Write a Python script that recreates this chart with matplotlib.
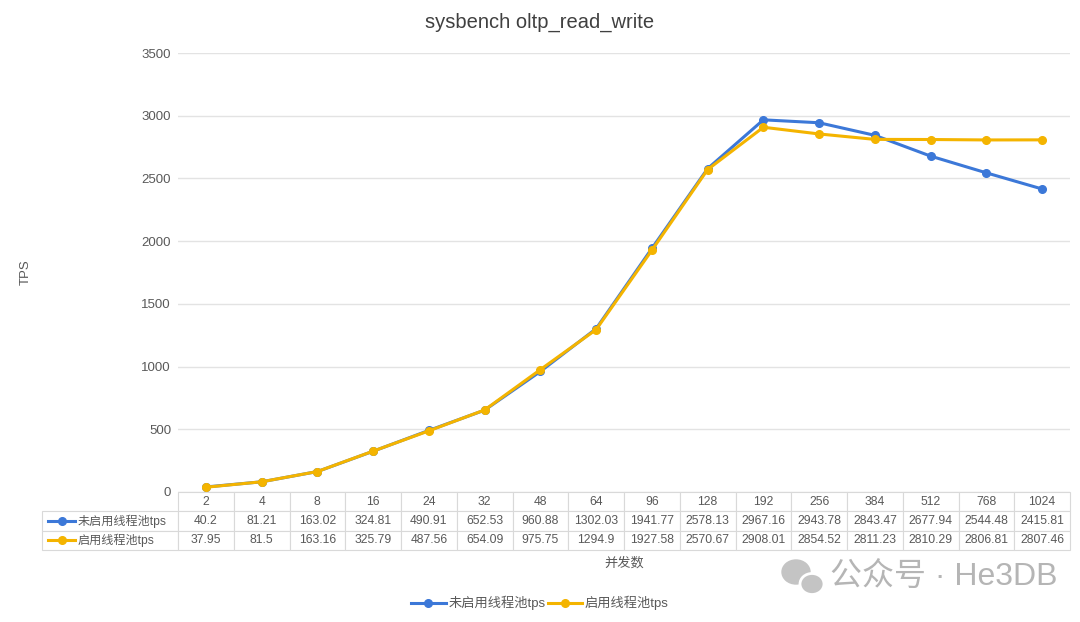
import numpy as np
import matplotlib
matplotlib.use("Agg")
import matplotlib.pyplot as plt
from matplotlib.lines import Line2D
from matplotlib.patches import Ellipse

plt.rcParams['font.family'] = ['Liberation Sans', 'Noto Sans CJK SC', 'DejaVu Sans']

## donnees
concurrency = ['2', '4', '8', '16', '24', '32', '48', '64', '96', '128',
               '192', '256', '384', '512', '768', '1024']
tps_off = [40.2, 81.21, 163.02, 324.81, 490.91, 652.53, 960.88, 1302.03,
           1941.77, 2578.13, 2967.16, 2943.78, 2843.47, 2677.94, 2544.48, 2415.81]
tps_on = [37.95, 81.5, 163.16, 325.79, 487.56, 654.09, 975.75, 1294.9,
          1927.58, 2570.67, 2908.01, 2854.52, 2811.23, 2810.29, 2806.81, 2807.46]
label_off = '未启用线程池tps'
label_on = '启用线程池tps'
yticks = [0, 500, 1000, 1500, 2000, 2500, 3000, 3500]

blue = '#3c78d8'
yellow = '#f4b400'
grey = '#595959'
edge = '#d9d9d9'

W, H = 1080, 622
fig = plt.figure(figsize=(W/100, H/100), dpi=100)
x0, x1, ytop, ybot = 178, 1070, 53, 492
ax = fig.add_axes([x0/W, 1-ybot/H, (x1-x0)/W, (ybot-ytop)/H])

x = np.arange(len(concurrency))
ax.plot(x, tps_off, color=blue, lw=2.2, marker='o', ms=5.5, zorder=3)
ax.plot(x, tps_on, color=yellow, lw=2.2, marker='o', ms=5.5, zorder=4)

ax.set_xlim(-0.5, len(concurrency)-0.5)
ax.set_ylim(0, 3500)
ax.set_yticks(yticks)
ax.set_xticks([])
ax.grid(axis='y', color='#e3e3e3', lw=1)
ax.set_axisbelow(True)
for s in ax.spines.values():
    s.set_visible(False)
ax.tick_params(axis='y', length=0, pad=5, labelsize=9.5, labelcolor=grey)

## tableau
wlab = (x0-42)/(x1-x0)
hrow = 19.3/(ybot-ytop)
cells = [[''] + concurrency,
         [label_off] + ['%g' % v for v in tps_off],
         [label_on] + ['%g' % v for v in tps_on]]
tab = ax.table(cellText=cells, colWidths=[wlab] + [1/len(concurrency)]*len(concurrency),
               cellLoc='center', bbox=[-wlab, -3*hrow, 1+wlab, 3*hrow])
tab.auto_set_font_size(False)
tab.set_fontsize(8.7)
for (r, c), cell in tab.get_celld().items():
    cell.set_edgecolor(edge)
    cell.set_linewidth(0.8)
    cell.get_text().set_color(grey)
    if c == 0:
        cell.get_text().set_ha('left')
        cell.PAD = 0.265
tab[0, 0].visible_edges = ''

for i, col in enumerate([blue, yellow]):
    yy = -(1.5 + i)*hrow
    ax.add_line(Line2D([(48-x0)/(x1-x0), (75-x0)/(x1-x0)], [yy, yy], color=col, lw=2.2,
                       transform=ax.transAxes, clip_on=False))
    ax.add_line(Line2D([(61.5-x0)/(x1-x0)], [yy], color=col, marker='o', ms=5.5,
                       transform=ax.transAxes, clip_on=False))

fig.text(540/W, 1-22/H, 'sysbench oltp_read_write', ha='center', va='center',
         fontsize=14.5, color='#404040')
fig.text(26/W, 1-272/H, 'TPS', ha='center', va='center', rotation=90,
         fontsize=9.5, color=grey)
fig.text(624/W, 1-563/H, '并发数', ha='center', va='center', fontsize=9.5, color=grey)

handles = [Line2D([], [], color=blue, lw=2.2, marker='o', ms=5.5),
           Line2D([], [], color=yellow, lw=2.2, marker='o', ms=5.5)]
fig.legend(handles, [label_off, label_on], loc='center', bbox_to_anchor=(540/W, 1-603/H),
           ncol=2, frameon=False, fontsize=9.5, handlelength=2.6, handletextpad=0.2,
           columnspacing=0.2, labelcolor=grey)

## filigrane
fig.patches.append(Ellipse((796/W, 1-572/H), 28/W, 24/H, color='#c4c4c4',
                           transform=fig.transFigure))
fig.patches.append(Ellipse((812/W, 1-584/H), 24/W, 21/H, fc='#c4c4c4', ec='white', lw=2,
                           transform=fig.transFigure))
fig.text(830/W, 1-577/H, '公众号 · He3DB', ha='left', va='center', fontsize=23,
         color='#b5b5b5')

fig.savefig('out.png', dpi=100)
